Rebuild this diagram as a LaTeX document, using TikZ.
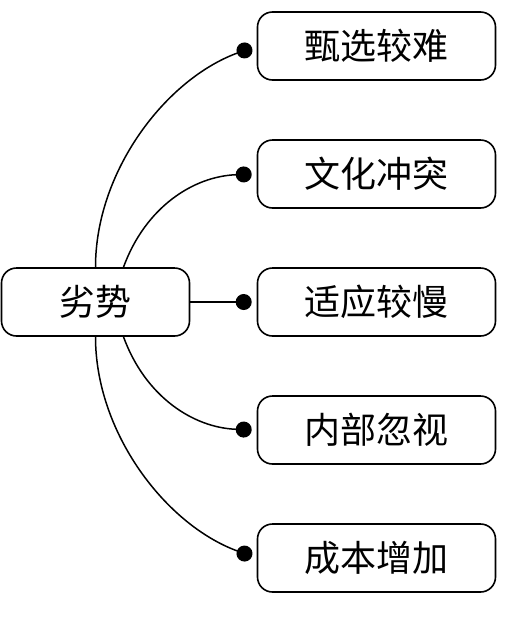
\documentclass[tikz,border=0pt]{standalone}
\usepackage{fontspec}
\newfontfamily\cjk{Noto Sans CJK SC}
\usetikzlibrary{arrows.meta,positioning}
\tikzset{
  box/.style={draw, rounded corners=15pt, line width=1.6pt,
    minimum width=238pt, minimum height=68pt, inner sep=0pt,
    font=\cjk\fontsize{36}{36}\selectfont},
  link/.style={line width=1.5pt, -{Circle[length=16pt,width=16pt]}, shorten >=5pt}
}
\begin{document}
\begin{tikzpicture}[x=1pt,y=1pt]
  \useasboundingbox (0,0) rectangle (514,-619);
  \node[box, minimum width=188pt] (weak) at (95.5,-302) {劣势};
  \foreach \t [count=\i] in {甄选较难,文化冲突,适应较慢,内部忽视,成本增加}{
    \node[box] (s\i) at (376.5,{-46-128*(\i-1)}) {\t};
  }
  \draw[link] (weak.north) to[out=90,in=200,looseness=0.9] (s1.west);
  \draw[link] ([xshift=28pt]weak.north) to[out=70,in=182] (s2.west);
  \draw[link] (weak.east) -- (s3.west);
  \draw[link] ([xshift=28pt]weak.south) to[out=-70,in=178] (s4.west);
  \draw[link] (weak.south) to[out=-90,in=160,looseness=0.9] (s5.west);
\end{tikzpicture}
\end{document}
